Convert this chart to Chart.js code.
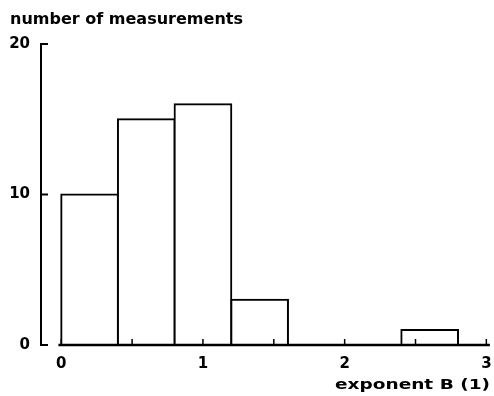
<!DOCTYPE html>
<html>
<head>
<meta charset="utf-8">
<script src="https://cdn.jsdelivr.net/npm/chart.js@4/dist/chart.umd.min.js"></script>
<style>
  html, body { margin: 0; padding: 0; background: #fff; }
  #wrap { width: 494px; height: 396px; }
</style>
</head>
<body>
<div id="wrap"><canvas id="c" width="494" height="396"></canvas></div>
<script>
// Histogram of the exponent B: bin edges, bin width and counts per bin
const binStarts = [0, 0.4, 0.8, 1.2, 1.6, 2.0, 2.4];
const binWidth = 0.4;
const counts = [10, 15, 16, 3, 0, 0, 1];

// Axis ticks
const xTickLabels = [0, 1, 2, 3];
const xMinorTicks = [0, 0.5, 1, 1.5, 2, 2.5, 3];
const yTickLabels = [0, 10, 20];

const yTitle = 'number of measurements';
const xTitle = 'exponent B (1)';

const FONT = '"DejaVu Sans", sans-serif';
const INK = '#000';

const histData = binStarts.map((s, i) => ({ x: s + binWidth / 2, y: counts[i] }));

// Draws the axis lines, their tick marks and the two axis titles
const axesPlugin = {
  id: 'axesPlugin',
  afterDatasetsDraw(chart) {
    const ctx = chart.ctx;
    const xs = chart.scales.x, ys = chart.scales.y;
    const y0 = ys.getPixelForValue(0);
    const yTop = ys.getPixelForValue(20);
    const axisX = chart.chartArea.left + 1;
    ctx.save();
    ctx.strokeStyle = INK;
    ctx.lineCap = 'butt';

    // vertical axis with inward ticks
    ctx.lineWidth = 2;
    ctx.beginPath();
    ctx.moveTo(axisX, yTop - 1);
    ctx.lineTo(axisX, y0 + 1);
    ctx.stroke();
    yTickLabels.forEach(v => {
      const py = ys.getPixelForValue(v);
      ctx.beginPath();
      ctx.moveTo(axisX - 1, py);
      ctx.lineTo(axisX + 7, py);
      ctx.stroke();
    });

    // horizontal axis with upward minor ticks
    ctx.lineWidth = 2.5;
    ctx.beginPath();
    ctx.moveTo(xs.getPixelForValue(-0.02), y0);
    ctx.lineTo(xs.getPixelForValue(3.025), y0);
    ctx.stroke();
    ctx.lineWidth = 1.5;
    xMinorTicks.forEach(v => {
      const px = xs.getPixelForValue(v);
      ctx.beginPath();
      ctx.moveTo(px, y0);
      ctx.lineTo(px, y0 - 6);
      ctx.stroke();
    });

    // titles
    ctx.fillStyle = INK;
    ctx.textBaseline = 'alphabetic';
    const drawFitted = (text, left, base, width, size) => {
      ctx.font = 'bold ' + size + 'px ' + FONT;
      const w = ctx.measureText(text).width;
      ctx.save();
      ctx.translate(left, base);
      ctx.scale(width / w, 1);
      ctx.textAlign = 'left';
      ctx.fillText(text, 0, 0);
      ctx.restore();
    };
    drawFitted(yTitle, 10, 24, 233, 16);
    drawFitted(xTitle, 335, 389, 155, 14);
    ctx.restore();
  }
};

new Chart(document.getElementById('c'), {
  type: 'bar',
  data: {
    datasets: [{
      data: histData,
      backgroundColor: '#fff',
      borderColor: INK,
      borderWidth: 2,
      inflateAmount: 1,
      borderSkipped: 'bottom',
      barPercentage: 1,
      categoryPercentage: 1
    }]
  },
  options: {
    responsive: false,
    animation: false,
    devicePixelRatio: 1,
    layout: { padding: { top: 44, right: 0, left: 0, bottom: 0 } },
    plugins: {
      legend: { display: false },
      tooltip: { enabled: false },
      title: { display: false }
    },
    scales: {
      x: {
        type: 'linear',
        offset: false,
        min: -0.15,
        max: 3.054,
        grid: { display: false, drawTicks: false, offset: false },
        border: { display: false },
        afterFit(scale) {
          scale.height = 51;
          scale.paddingLeft = 0;
          scale.paddingRight = 0;
        },
        afterBuildTicks(scale) { scale.ticks = xTickLabels.map(v => ({ value: v })); },
        ticks: {
          color: INK,
          padding: 10,
          maxRotation: 0,
          autoSkip: false,
          font: { family: FONT, size: 15, weight: 'bold' },
          callback: v => String(v)
        }
      },
      y: {
        min: 0,
        max: 20,
        grid: { display: false, drawTicks: false },
        border: { display: false },
        afterFit(scale) { scale.width = 40; },
        afterBuildTicks(scale) { scale.ticks = yTickLabels.map(v => ({ value: v })); },
        ticks: {
          color: INK,
          padding: 10,
          font: { family: FONT, size: 15, weight: 'bold' },
          callback: v => String(v)
        }
      }
    }
  },
  plugins: [axesPlugin]
});
</script>
</body>
</html>
